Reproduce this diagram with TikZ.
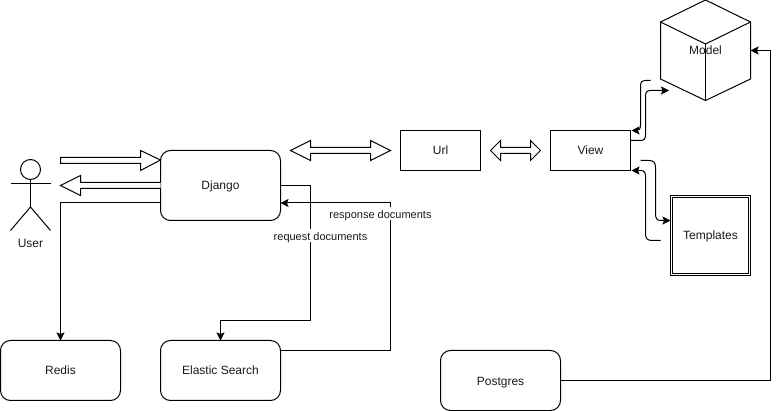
\documentclass[tikz,border=0pt]{standalone}
\usepackage{fontspec}
\setmainfont{Liberation Sans}
\usetikzlibrary{arrows.meta,calc}
\definecolor{ink}{HTML}{000000}
\definecolor{txt}{HTML}{1A1A1A}
\tikzset{
  x=1pt,y=-1pt,
  every node/.style={inner sep=0pt,outer sep=0pt,text=txt,font=\fontsize{12}{14}\selectfont,text height=10pt,text depth=1pt},
  every path/.style={line width=1pt,draw=ink},
  roundbox/.style={draw,rounded corners=10pt,minimum width=120pt,minimum height=60pt},
  squarebox/.style={draw,minimum width=80pt,minimum height=40pt},
  conn/.style={-{Stealth[length=8pt,width=8pt,inset=1.5pt]},line join=miter},
  edgelabel/.style={fill=white,font=\fontsize{11}{13}\selectfont,inner sep=1pt},
  blockarrow/.style={draw,fill=white,line join=miter},
  figure/.style={line cap=butt}
}
\begin{document}
\begin{tikzpicture}
\useasboundingbox[fill=white,draw=none] (0,0) rectangle (779,411);

% boxes
\node[roundbox,minimum height=70pt] (django) at (220.5,185.5) {Django};
\node[roundbox] (redis) at (60.5,370.5) {Redis};
\node[roundbox] (elastic) at (220.5,370.5) {Elastic Search};
\node[roundbox] (postgres) at (500.5,380.5) {Postgres};
\node[squarebox] (url) at (440.5,150.5) {Url};
\node[squarebox] (view) at (590.5,150.5) {View};

% templates (double border)
\node[draw,minimum width=80pt,minimum height=80pt] (templates) at (710.5,235.5) {Templates};
\draw (672.5,197.5) rectangle (748.5,273.5);

% model cube
\draw[line join=miter] (660.5,22) -- (705.5,0) -- (750.5,22) -- (750.5,79) -- (705.5,100.5) -- (660.5,79) -- cycle;
\draw[line join=miter] (660.5,22) -- (705.5,44) -- (750.5,22);
\draw (705.5,44) -- (705.5,100.5);
\node[minimum width=90pt,minimum height=100pt] (model) at (705.5,50.5) {Model};

% user actor
\draw[figure] (30.5,169.5) circle (10pt);
\draw[figure] (30.5,179.5) -- (30.5,207);
\draw[figure] (10.5,183.5) -- (50.5,183.5);
\draw[figure,line join=miter] (10.5,230.5) -- (30.5,207) -- (50.5,230.5);
\node (user) at (30.5,243.5) {User};

% block arrows
\draw[blockarrow] (60.5,157.5) -- (140.5,157.5) -- (140.5,150.5) -- (160.5,160) -- (140.5,170.5) -- (140.5,163.5) -- (60.5,163.5) -- cycle;
\draw[blockarrow] (160.5,182.5) -- (80.5,182.5) -- (80.5,175.5) -- (60.5,185.5) -- (80.5,195.5) -- (80.5,188.5) -- (160.5,188.5);
\draw[blockarrow] (290.5,150.5) -- (310.5,140.5) -- (310.5,147.5) -- (370.5,147.5) -- (370.5,140.5) -- (390.5,150.5) -- (370.5,160.5) -- (370.5,153.5) -- (310.5,153.5) -- (310.5,160.5) -- cycle;
\draw[blockarrow] (490.5,150.5) -- (500.5,140.5) -- (500.5,147.5) -- (530.5,147.5) -- (530.5,140.5) -- (540.5,150.5) -- (530.5,160.5) -- (530.5,153.5) -- (500.5,153.5) -- (500.5,160.5) -- cycle;

% connectors
\draw[conn] (django.west |- 0,203) -- (60.5,203) -- (redis.north -| 60.5,0);
\draw[conn] (django.east |- 0,185.5) -- (310.5,185.5) -- (310.5,320.5) -- (220.5,320.5) -- (elastic.north);
\draw[conn] (elastic.east |- 0,350.5) -- (390.5,350.5) -- (390.5,203) -- (django.east |- 0,203);
\draw[conn] (postgres.east) -- (770.5,380.5) -- (770.5,50.5) -- (model.east);

\node[edgelabel] (reqlabel) at (320.5,236) {request documents};
\node[edgelabel] (resplabel) at (380.5,214) {response documents};

% view <-> model
\coordinate (vmA) at (630.5,140.5);
\coordinate (vmB) at (669,90.5);
\coordinate (vmC) at (650.5,80.5);
\coordinate (vmD) at (631.5,130.5);
\draw[conn] (vmA) -- (640,140.5) .. controls (644,140.5) and (645.5,139) .. (645.5,135) -- (645.5,96) .. controls (645.5,92) and (647,90.5) .. (651,90.5) -- (vmB);
\draw[conn] (vmC) -- (646,80.5) .. controls (642,80.5) and (640.5,82) .. (640.5,86) -- (640.5,125) .. controls (640.5,129) and (639,130.5) .. (636,130.5) -- (vmD);

% view <-> templates
\coordinate (vtA) at (640.5,160.5);
\coordinate (vtB) at (660.5,240.5);
\coordinate (vtC) at (631.5,170.5);
\draw[conn] (vtA) -- (649,160.5) .. controls (653.5,160.5) and (655.5,162.5) .. (655.5,167) -- (655.5,214) .. controls (655.5,218.5) and (657,220.5) .. (661,220.5) -- (templates.west |- 0,220.5);
\draw[conn] (vtB) -- (652,240.5) .. controls (647.5,240.5) and (645.5,238.5) .. (645.5,234) -- (645.5,176) .. controls (645.5,172) and (644,170.5) .. (640,170.5) -- (vtC);
\end{tikzpicture}
\end{document}
